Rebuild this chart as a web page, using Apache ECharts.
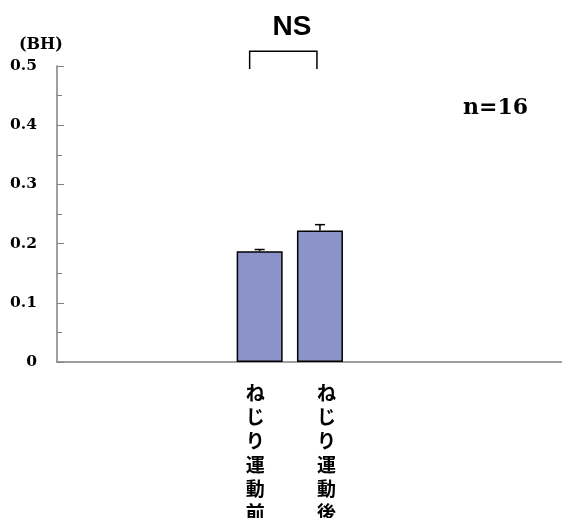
<!DOCTYPE html>
<html><head><meta charset="utf-8">
<script src="https://cdn.jsdelivr.net/npm/echarts@6/dist/echarts.min.js"></script>
<style>html,body{margin:0;padding:0;background:#fff}#c{width:562px;height:518px}</style>
</head><body><div id="c"></div>
<script>
const categories = ['ねじり運動前', 'ねじり運動後'];
const means = [0.187, 0.222];
const errors = [0.003, 0.010];
const yTicks = [0, 0.1, 0.2, 0.3, 0.4, 0.5];
const sigLabel = 'NS';
const sampleLabel = 'n=16';
const unitLabel = '(BH)';

const chart = echarts.init(document.getElementById('c'), null, {renderer: 'canvas'});
const serif = '"DejaVu Serif","Liberation Serif",serif';
const cjk = '"Noto Sans CJK JP","Noto Sans",sans-serif';
const axisCol = '#808080';
const gridTop = 66, gridBottom = 156;
const labelStyle = {fontFamily: cjk, fontWeight: 'bold', fontSize: 19, lineHeight: 24, color: '#000'};

chart.setOption({
  animation: false,
  title: [
    {text: unitLabel, left: 14, top: 32, textStyle: {fontFamily: serif, fontWeight: 'bold', fontSize: 16, color: '#000'}},
    {text: sampleLabel, left: 458, top: 92, textStyle: {fontFamily: serif, fontWeight: 'bold', fontSize: 22, color: '#000'}},
    {text: sigLabel, left: 287, textAlign: 'center', top: 8, textStyle: {fontFamily: '"Liberation Sans",Arial,sans-serif', fontWeight: 'bold', fontSize: 28, color: '#000'}}
  ],
  grid: [
    {left: 57, right: 0, top: gridTop, bottom: gridBottom, outerBoundsMode: 'none', containLabel: false},
    {left: 229.5, width: 120.6, top: gridTop, bottom: gridBottom, outerBoundsMode: 'none', containLabel: false}
  ],
  xAxis: [
    {gridIndex: 0, type: 'category', data: [''], axisLine: {lineStyle: {color: axisCol, width: 1.5}}, axisTick: {show: false}, axisLabel: {show: false}},
    {gridIndex: 1, type: 'category', data: categories, axisLine: {show: false}, axisTick: {show: false},
      axisLabel: {interval: 0, margin: 19, verticalAlign: 'top', ...labelStyle,
        rich: {
          l: {...labelStyle, padding: [0, 9, 0, 0]},
          r: {...labelStyle, padding: [0, 0, 0, 13]}
        },
        formatter: (v, i) => v.split('').map(ch => '{' + (i === 0 ? 'l' : 'r') + '|' + ch + '}').join('\n')}}
  ],
  yAxis: [
    {gridIndex: 0, type: 'value', min: 0, max: 0.5, interval: 0.1,
      axisLine: {show: true, lineStyle: {color: axisCol, width: 1.5}},
      axisTick: {show: true, inside: true, length: 7, lineStyle: {color: axisCol}},
      minorTick: {show: true, splitNumber: 2, length: 5, lineStyle: {color: axisCol}},
      splitLine: {show: false},
      axisLabel: {margin: 20, fontFamily: serif, fontWeight: 'bold', fontSize: 15.5, color: '#000',
        formatter: v => (v === 0 ? '0' : v.toFixed(1))}},
    {gridIndex: 1, type: 'value', min: 0, max: 0.5, interval: 0.1, show: false}
  ],
  series: [
    {type: 'bar', xAxisIndex: 1, yAxisIndex: 1, data: means, barWidth: 46,
      itemStyle: {color: '#8B93C8', borderColor: '#000', borderWidth: 1.5}},
    {type: 'custom', xAxisIndex: 1, yAxisIndex: 1, z: 5,
      data: means.map((m, i) => [i, m, errors[i]]),
      renderItem: (params, api) => {
        const i = api.value(0), m = api.value(1), e = api.value(2);
        const p0 = api.coord([i, m]);
        const p1 = api.coord([i, m + e]);
        const cap = 5;
        return {type: 'group', children: [
          {type: 'line', shape: {x1: p0[0], y1: p0[1], x2: p1[0], y2: p1[1]}, style: {stroke: '#000', lineWidth: 1.5}},
          {type: 'line', shape: {x1: p1[0] - cap, y1: p1[1], x2: p1[0] + cap, y2: p1[1]}, style: {stroke: '#000', lineWidth: 1.5}}
        ]};
      }},
    {type: 'custom', xAxisIndex: 1, yAxisIndex: 1, z: 5, clip: false,
      data: [[0, 1, 0.495, 0.525]],
      renderItem: (params, api) => {
        const a = api.coord([api.value(0), api.value(2)]);
        const b = api.coord([api.value(1), api.value(3)]);
        const xl = a[0] - 10, xr = b[0] - 3;
        return {type: 'polyline', shape: {points: [[xl, a[1]], [xl, b[1]], [xr, b[1]], [xr, a[1]]]},
          style: {stroke: '#000', lineWidth: 1.5, fill: null}};
      }}
  ]
});
</script></body></html>
